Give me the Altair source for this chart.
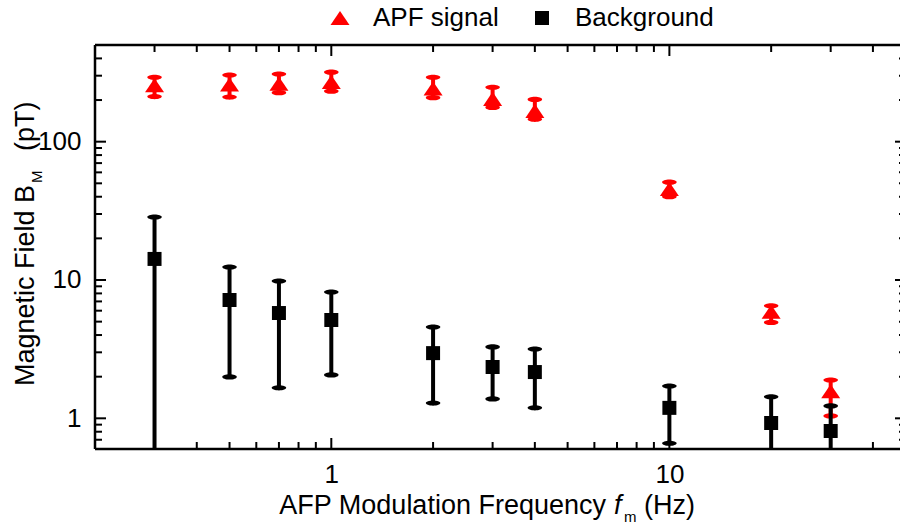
import altair as alt
import pandas as pd

# ---- data ----
freq = [0.3, 0.5, 0.7, 1, 2, 3, 4, 10, 20, 30]
apf = [256, 259, 262, 270, 242, 204, 167, 45.5, 5.9, 1.57]
apf_hi = [292, 303, 308, 318, 292, 247, 202, 51, 6.5, 1.89]
apf_lo = [212, 210, 226, 232, 208, 177, 145, 40, 4.93, 1.04]
bg = [14.2, 7.17, 5.77, 5.14, 2.96, 2.35, 2.16, 1.19, 0.925, 0.81]
bg_hi = [28.5, 12.4, 9.83, 8.18, 4.57, 3.28, 3.17, 1.71, 1.43, 1.23]
bg_lo = [0.1, 1.99, 1.66, 2.06, 1.29, 1.38, 1.19, 0.66, 0.1, 0.1]
series = ["APF signal", "Background"]
colors = ["#ff0000", "#000000"]

x_major = [1, 10]
x_minor = [0.3, 0.4, 0.5, 0.6, 0.7, 0.8, 0.9, 2, 3, 4, 5, 6, 7, 8, 9, 20, 30, 40]
y_major = [1, 10, 100]
y_minor = [0.7, 0.8, 0.9, 2, 3, 4, 5, 6, 7, 8, 9, 20, 30, 40, 50, 60, 70, 80, 90, 200, 300, 400]

W, H = 805, 404
XDOM = [0.2, 48.1]
YDOM = [0.6, 500]
FONT = "Liberation Sans"

TRI = "M0,-0.74L-1,0.74L1,0.74Z"
ELL = "M-1,0A1,0.36,0,1,0,1,0A1,0.36,0,1,0,-1,0Z"

xs = alt.Scale(type="log", domain=XDOM, nice=False)
ys = alt.Scale(type="log", domain=YDOM, nice=False)
xaxis = alt.Axis(values=x_major, format="d", ticks=False, domain=False, grid=False,
                 labelFontSize=26, labelFont=FONT, labelColor="black", labelPadding=12, title=None)
yaxis = alt.Axis(values=y_major, format="d", ticks=False, domain=False, grid=False,
                 labelFontSize=26, labelFont=FONT, labelColor="black", labelPadding=14, title=None)


def X(f):
    return alt.X(f, type="quantitative", scale=xs, axis=xaxis)


def Y(f):
    return alt.Y(f, type="quantitative", scale=ys, axis=yaxis)


df_apf = pd.DataFrame({"f": freq, "v": apf, "hi": apf_hi, "lo": apf_lo, "s": series[0]})
df_bg = pd.DataFrame({"f": freq, "v": bg, "hi": bg_hi, "lo": bg_lo, "s": series[1]})

layers = []

# frame (left, top, bottom) and ticks on all sides, inward
one = pd.DataFrame({"a": [0]})
layers.append(alt.Chart(one).mark_rule(color="black", strokeWidth=2.5).encode(
    x=alt.value(0), y=alt.value(0), y2=alt.value(H)))
layers.append(alt.Chart(one).mark_rule(color="black", strokeWidth=2.5).encode(
    x=alt.value(0), x2=alt.value(W), y=alt.value(0)))
layers.append(alt.Chart(one).mark_rule(color="black", strokeWidth=2.5).encode(
    x=alt.value(0), x2=alt.value(W), y=alt.value(H)))

for vals, ln in [(x_major, 11), (x_minor, 7)]:
    d = pd.DataFrame({"t": vals})
    layers.append(alt.Chart(d).mark_rule(color="black", strokeWidth=2).encode(
        x=X("t"), y=alt.value(H), y2=alt.value(H - ln)))
    layers.append(alt.Chart(d).mark_rule(color="black", strokeWidth=2).encode(
        x=X("t"), y=alt.value(0), y2=alt.value(ln)))
for vals, ln in [(y_major, 11), (y_minor, 7)]:
    d = pd.DataFrame({"t": vals})
    layers.append(alt.Chart(d).mark_rule(color="black", strokeWidth=2).encode(
        y=Y("t"), x=alt.value(0), x2=alt.value(ln)))
    layers.append(alt.Chart(d).mark_rule(color="black", strokeWidth=2).encode(
        y=Y("t"), x=alt.value(W + 6), x2=alt.value(W + 6 - ln)))

# error bars
for df, col in [(df_apf, colors[0]), (df_bg, colors[1])]:
    base = alt.Chart(df)
    layers.append(base.mark_rule(color=col, strokeWidth=4, clip=True).encode(
        x=X("f"), y=Y("lo"), y2="hi:Q"))
    layers.append(base.mark_point(shape=ELL, filled=True, size=210, color=col,
                                  opacity=1, strokeWidth=0).encode(x=X("f"), y=Y("hi")))
    layers.append(base.transform_filter("datum.lo >= 0.6").mark_point(
        shape=ELL, filled=True, size=210, color=col, opacity=1, strokeWidth=0).encode(
        x=X("f"), y=Y("lo")))

# points with legend
pts = pd.concat([df_apf, df_bg], ignore_index=True)
leg = alt.Legend(orient="none", legendX=232, legendY=-40, direction="horizontal", title=None,
                 labelFontSize=26, labelFont=FONT, labelColor="black", padding=0,
                 labelOffset=20, columnPadding=30, symbolStrokeWidth=0)
layers.append(alt.Chart(pts).mark_point(filled=True, opacity=1, strokeWidth=0).encode(
    x=X("f"), y=Y("v"),
    color=alt.Color("s:N", scale=alt.Scale(domain=series, range=colors), legend=leg),
    shape=alt.Shape("s:N", scale=alt.Scale(domain=series, range=[TRI, "square"]), legend=leg),
    size=alt.Size("s:N", scale=alt.Scale(domain=series, range=[361, 196]), legend=leg),
))

# axis titles with italic / subscript parts
def txt(s, x, y, size=27, angle=0, align="left", style="normal"):
    return alt.Chart(one).mark_text(text=s, font=FONT, fontSize=size, color="black",
                                    align=align, baseline="alphabetic", angle=angle,
                                    fontStyle=style).encode(x=alt.value(x), y=alt.value(y))

layers.append(txt("AFP Modulation Frequency", 511, 469, align="right"))
layers.append(txt("f", 519, 469, style="italic"))
layers.append(txt("m", 529, 477, size=15))
layers.append(txt("(Hz)", 549, 469))

layers.append(txt("Magnetic Field B", -61, 140, angle=270, align="right"))
layers.append(txt("M", -53, 138, size=15, angle=270, align="left"))
layers.append(txt("(pT)", -61, 106, angle=270, align="left"))

chart = alt.layer(*layers).properties(
    width=W, height=H,
    padding={"left": 95, "top": 45, "right": 0, "bottom": 78},
    autosize=alt.AutoSizeParams(type="none"),
).configure_view(stroke=None)

chart.save("out.html", embed_options={"renderer": "svg", "actions": False})
